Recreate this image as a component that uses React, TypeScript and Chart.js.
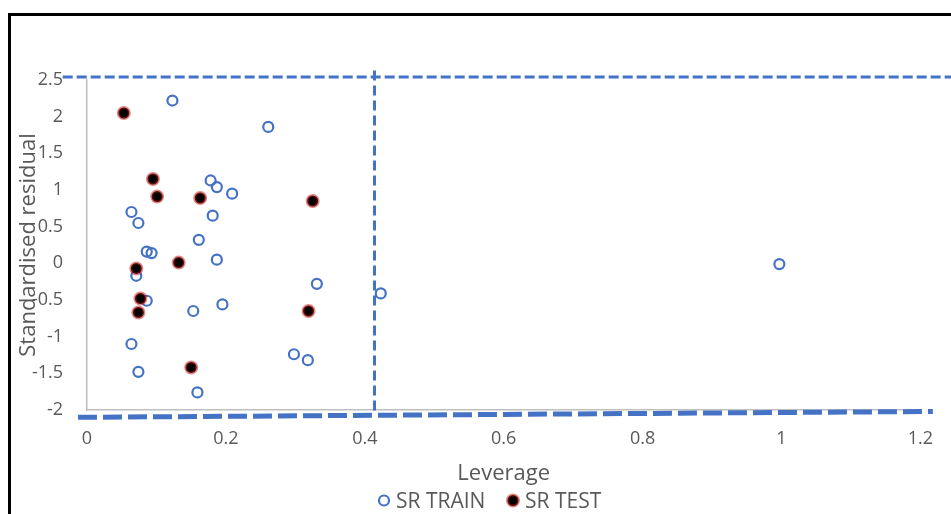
import React, { useEffect, useRef } from "react";
import { Chart, registerables } from "chart.js";

Chart.register(...registerables);

// ---- data ----
const trainX = [0.123, 0.261, 0.178, 0.187, 0.209, 0.064, 0.074, 0.181, 0.161, 0.086, 0.093, 0.187, 0.071, 0.331, 0.423, 0.086, 0.195, 0.153, 0.064, 0.298, 0.318, 0.074, 0.159, 0.997];
const trainY = [2.22, 1.86, 1.13, 1.04, 0.95, 0.70, 0.55, 0.65, 0.32, 0.16, 0.14, 0.05, -0.17, -0.28, -0.41, -0.51, -0.56, -0.65, -1.10, -1.24, -1.32, -1.48, -1.76, -0.01];
const testX = [0.053, 0.095, 0.101, 0.163, 0.325, 0.132, 0.071, 0.077, 0.074, 0.319, 0.150];
const testY = [2.05, 1.15, 0.91, 0.89, 0.85, 0.01, -0.07, -0.48, -0.67, -0.65, -1.42];

// threshold lines
const topLineX = [-0.035, 1.26];
const topLineY = [2.54, 2.54];
const bottomLineX = [-0.013, 1.218];
const bottomLineY = [-2.1, -2.02];
const leverageLineX = [0.414, 0.414];
const leverageLineY = [2.63, -2.07];

const xTickLabels = ["0", "0.2", "0.4", "0.6", "0.8", "1", "1.2"];
const yTickLabels = ["-2", "-1.5", "-1", "-0.5", "0", "0.5", "1", "1.5", "2", "2.5"];
const seriesNames = ["SR TRAIN", "SR TEST"];
const xTitle = "Leverage";
const yTitle = "Standardised residual";

const FONT = "'Open Sans', Lato, 'DejaVu Sans', sans-serif";
const BLUE = "#4472C4";
const GREY_TEXT = "#595959";
const TEST_EDGE = "rgba(192,20,20,0.5)";

const zip = (xs: number[], ys: number[]) => xs.map((x, i) => ({ x, y: ys[i] }));

const legendPlugin = {
  id: "customLegend",
  afterDraw(chart: any) {
    const ctx = chart.ctx;
    ctx.save();
    const cy = 500.5;
    // SR TRAIN
    ctx.beginPath();
    ctx.arc(384, cy, 5, 0, Math.PI * 2);
    ctx.lineWidth = 2.2;
    ctx.strokeStyle = BLUE;
    ctx.stroke();
    ctx.font = `21px ${FONT}`;
    ctx.fillStyle = GREY_TEXT;
    ctx.textBaseline = "alphabetic";
    ctx.textAlign = "left";
    ctx.fillText(seriesNames[0], 396, 508);
    // SR TEST
    ctx.beginPath();
    ctx.arc(513, cy, 5.5, 0, Math.PI * 2);
    ctx.fillStyle = "#000";
    ctx.fill();
    ctx.lineWidth = 3;
    ctx.strokeStyle = TEST_EDGE;
    ctx.stroke();
    ctx.fillStyle = GREY_TEXT;
    ctx.fillText(seriesNames[1], 525, 508);
    ctx.restore();
  },
};

export default function App() {
  const ref = useRef<HTMLCanvasElement | null>(null);

  useEffect(() => {
    if (!ref.current) return;
    const lineDs = (xs: number[], ys: number[], width: number, dash: number[]) => ({
      type: "scatter" as const,
      data: zip(xs, ys),
      showLine: true,
      borderColor: BLUE,
      borderWidth: width,
      borderDash: dash,
      pointRadius: 0,
      pointHoverRadius: 0,
      clip: false as const,
      order: 3,
    });
    const chart = new Chart(ref.current, {
      type: "scatter",
      data: {
        datasets: [
          {
            label: seriesNames[0],
            data: zip(trainX, trainY),
            pointStyle: "circle",
            pointRadius: 5,
            pointBorderWidth: 2.2,
            borderColor: BLUE,
            backgroundColor: "rgba(255,255,255,0)",
            order: 2,
          },
          {
            label: seriesNames[1],
            data: zip(testX, testY),
            pointStyle: "circle",
            pointRadius: 5.5,
            pointBorderWidth: 3,
            borderColor: TEST_EDGE,
            backgroundColor: "#000",
            order: 1,
          },
          lineDs(topLineX, topLineY, 3, [10, 4]) as any,
          lineDs(bottomLineX, bottomLineY, 5, [19, 6]) as any,
          lineDs(leverageLineX, leverageLineY, 3, [10, 5]) as any,
        ],
      },
      options: {
        responsive: false,
        animation: false,
        events: [],
        layout: { padding: { left: 0, top: 80, right: 29, bottom: 0 } },
        plugins: { legend: { display: false }, tooltip: { enabled: false } },
        scales: {
          x: {
            type: "linear",
            min: 0,
            max: 1.2,
            afterFit: (s: any) => {
              s.height = 104;
            },
            ticks: {
              stepSize: 0.2,
              padding: 18,
              color: GREY_TEXT,
              font: { family: FONT, size: 18 },
              callback: (v: any) => xTickLabels[Math.round(Number(v) / 0.2)] ?? "",
            },
            grid: { display: true, color: "rgba(0,0,0,0)", drawTicks: false },
            border: { display: true, color: "#BFBFBF", width: 1.5 },
            title: {
              display: true,
              text: xTitle,
              color: GREY_TEXT,
              font: { family: FONT, size: 22 },
              padding: { top: 0, bottom: 27 },
            },
          },
          y: {
            type: "linear",
            min: -2,
            max: 2.5,
            afterFit: (s: any) => {
              s.width = 87;
            },
            ticks: {
              stepSize: 0.5,
              padding: 24,
              color: GREY_TEXT,
              font: { family: FONT, size: 18 },
              callback: (v: any) => yTickLabels[Math.round((Number(v) + 2) / 0.5)] ?? "",
            },
            grid: { display: true, color: "rgba(0,0,0,0)", drawTicks: false },
            border: { display: true, color: "#BFBFBF", width: 1.5 },
            title: {
              display: true,
              text: yTitle,
              color: GREY_TEXT,
              font: { family: FONT, size: 22 },
              padding: { top: 16, bottom: 0 },
            },
          },
        },
      },
      plugins: [legendPlugin],
    });
    let alive = true;
    if ((document as any).fonts) {
      Promise.all([
        (document as any).fonts.load(`18px 'Open Sans'`),
        (document as any).fonts.load(`22px 'Open Sans'`),
      ]).then(() => {
        if (alive) chart.update();
      }).catch(() => {});
    }
    return () => {
      alive = false;
      chart.destroy();
    };
  }, []);

  return (
    <div style={{ position: "fixed", left: 0, top: 0, width: 951, height: 514, overflow: "hidden", background: "#fff" }}>
      <canvas ref={ref} width={951} height={514} style={{ position: "absolute", left: 0, top: 0, width: 951, height: 514 }} />
      <div
        style={{
          position: "absolute",
          left: 8,
          top: 13,
          width: 943,
          height: 501,
          boxSizing: "border-box",
          borderTop: "3px solid #000",
          borderLeft: "3px solid #000",
          pointerEvents: "none",
        }}
      />
    </div>
  );
}
